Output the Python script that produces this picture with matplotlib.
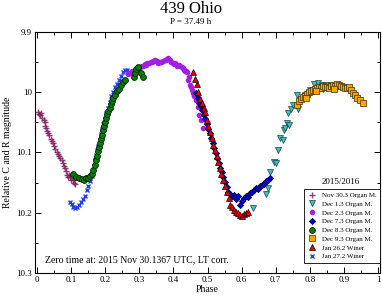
import matplotlib
matplotlib.use("Agg")
import matplotlib.pyplot as plt
from matplotlib.ticker import MultipleLocator

plt.rcParams['font.family'] = ['Liberation Serif', 'DejaVu Serif']

# Nov 30.3 Organ M.
nov30_phase = [0.003, 0.006, 0.010, 0.012, 0.016, 0.019, 0.022, 0.024, 0.027, 0.030, 0.033, 0.036,
               0.040, 0.043, 0.047, 0.050, 0.054, 0.058, 0.062, 0.065, 0.068, 0.072, 0.075, 0.078,
               0.082, 0.086, 0.088, 0.091, 0.094, 0.097, 0.100, 0.103, 0.106, 0.109, 0.112]
nov30_mag = [10.033, 10.036, 10.038, 10.034, 10.042, 10.046, 10.050, 10.056, 10.060, 10.064, 10.067, 10.071,
             10.078, 10.081, 10.085, 10.090, 10.095, 10.099, 10.102, 10.106, 10.109, 10.113, 10.118, 10.122,
             10.126, 10.131, 10.138, 10.140, 10.137, 10.141, 10.145, 10.141, 10.146, 10.150, 10.152]

# Dec 1.3 Organ M.
dec1_phase = [0.633, 0.672, 0.677, 0.683, 0.695, 0.702, 0.707, 0.714, 0.720, 0.723, 0.727, 0.732,
              0.739, 0.737, 0.745, 0.751, 0.762, 0.765, 0.774, 0.786, 0.800, 0.812, 0.824, 0.836,
              0.848, 0.862, 0.839]
dec1_mag = [10.192, 10.169, 10.159, 10.132, 10.116, 10.117, 10.096, 10.076, 10.079, 10.063, 10.059, 10.051,
            10.054, 10.034, 10.028, 10.021, 10.005, 10.028, 10.013, 10.005, 9.996, 9.986, 9.985, 9.988,
            9.988, 9.988, 9.995]

# Dec 2.3 Organ M.
dec2_phase = [0.267, 0.272, 0.276, 0.280, 0.284, 0.289, 0.293, 0.298, 0.302, 0.307, 0.311, 0.316,
              0.320, 0.324, 0.328, 0.333, 0.337, 0.341, 0.346, 0.350, 0.352, 0.356, 0.361, 0.365,
              0.370, 0.374, 0.378, 0.381, 0.384, 0.389, 0.393, 0.398, 0.402, 0.406, 0.411, 0.415,
              0.419, 0.424, 0.428, 0.431, 0.434, 0.437, 0.440, 0.443, 0.446, 0.449, 0.452, 0.455,
              0.458, 0.460, 0.466, 0.472, 0.475, 0.481, 0.487]
dec2_mag = [9.970, 9.968, 9.966, 9.964, 9.965, 9.962, 9.961, 9.959, 9.958, 9.957, 9.956, 9.953,
            9.955, 9.952, 9.951, 9.949, 9.950, 9.948, 9.946, 9.948, 9.948, 9.951, 9.950, 9.949,
            9.948, 9.947, 9.946, 9.944, 9.943, 9.947, 9.950, 9.952, 9.953, 9.951, 9.956, 9.955,
            9.956, 9.958, 9.960, 9.963, 9.965, 9.964, 9.966, 9.980, 9.975, 9.988, 9.992, 9.996,
            10.001, 10.006, 10.013, 10.024, 10.038, 10.046, 10.059]

# Dec 7.3 Organ M.
dec7_phase = [0.466, 0.472, 0.475, 0.481, 0.484, 0.490, 0.493, 0.499, 0.501, 0.507, 0.510, 0.516,
              0.519, 0.525, 0.528, 0.534, 0.537, 0.543, 0.545, 0.551, 0.557, 0.560, 0.566, 0.572,
              0.578, 0.584, 0.589, 0.595, 0.601, 0.607, 0.613, 0.619, 0.625, 0.630, 0.636, 0.642,
              0.648, 0.654, 0.660, 0.666, 0.672, 0.677, 0.683]
dec7_mag = [10.001, 10.010, 10.018, 10.023, 10.029, 10.038, 10.044, 10.053, 10.061, 10.068, 10.076, 10.084,
            10.093, 10.101, 10.109, 10.117, 10.126, 10.132, 10.141, 10.149, 10.157, 10.166, 10.169, 10.172,
            10.171, 10.177, 10.173, 10.187, 10.180, 10.176, 10.172, 10.174, 10.167, 10.166, 10.162, 10.159,
            10.161, 10.156, 10.154, 10.152, 10.147, 10.146, 10.142]

# Dec 8.3 Organ M.
dec8_phase = [0.106, 0.114, 0.123, 0.132, 0.138, 0.144, 0.150, 0.155, 0.161, 0.164, 0.170, 0.173,
              0.176, 0.179, 0.182, 0.185, 0.188, 0.191, 0.194, 0.196, 0.199, 0.202, 0.205, 0.208,
              0.214, 0.217, 0.220, 0.223, 0.229, 0.235, 0.240, 0.246, 0.252, 0.258, 0.284, 0.287,
              0.290, 0.296, 0.305, 0.311]
dec8_mag = [10.136, 10.141, 10.142, 10.144, 10.146, 10.142, 10.142, 10.139, 10.136, 10.129, 10.121, 10.112,
            10.106, 10.098, 10.091, 10.084, 10.078, 10.071, 10.063, 10.056, 10.049, 10.043, 10.036, 10.031,
            10.026, 10.020, 10.015, 10.010, 10.005, 9.998, 9.995, 9.988, 9.983, 9.980, 9.975, 9.968,
            9.961, 9.958, 9.968, 9.975]

# Dec 9.3 Organ M.
dec9_phase = [0.762, 0.768, 0.774, 0.780, 0.786, 0.792, 0.798, 0.804, 0.809, 0.815, 0.821, 0.827,
              0.833, 0.839, 0.845, 0.850, 0.856, 0.862, 0.868, 0.874, 0.880, 0.886, 0.891, 0.897,
              0.903, 0.909, 0.915, 0.921, 0.927, 0.933, 0.938, 0.947, 0.956, 0.790, 0.818, 0.870]
dec9_mag = [10.021, 10.015, 10.011, 10.008, 10.006, 10.003, 10.000, 9.998, 9.996, 9.995, 9.993, 9.991,
            9.993, 9.990, 9.991, 9.991, 9.993, 9.990, 9.988, 9.990, 9.986, 9.988, 9.990, 9.991,
            9.993, 9.993, 9.991, 9.996, 10.001, 10.005, 10.010, 10.013, 10.018, 10.010, 9.998, 9.994]

# Jan 26.2 Winer
jan26_phase = [0.457, 0.463, 0.469, 0.472, 0.478, 0.484, 0.490, 0.493, 0.499, 0.501, 0.507, 0.513,
               0.516, 0.522, 0.528, 0.531, 0.537, 0.540, 0.545, 0.551, 0.557, 0.563, 0.566, 0.572,
               0.578, 0.584, 0.589, 0.595, 0.601, 0.607, 0.613, 0.619]
jan26_mag = [9.966, 9.978, 9.986, 10.000, 10.011, 10.018, 10.026, 10.033, 10.046, 10.056, 10.066, 10.076,
             10.088, 10.096, 10.106, 10.116, 10.126, 10.136, 10.146, 10.156, 10.166, 10.176, 10.187, 10.190,
             10.195, 10.199, 10.200, 10.204, 10.205, 10.202, 10.200, 10.199]

# Jan 27.2 Winer
jan27_phase = [0.097, 0.103, 0.106, 0.111, 0.117, 0.123, 0.129, 0.135, 0.141, 0.147, 0.150, 0.155,
               0.161, 0.164, 0.167, 0.170, 0.173, 0.176, 0.179, 0.185, 0.188, 0.191, 0.194, 0.199,
               0.202, 0.208, 0.214, 0.217, 0.223, 0.229, 0.235, 0.240, 0.246, 0.252, 0.258, 0.264]
jan27_mag = [10.182, 10.185, 10.190, 10.192, 10.190, 10.187, 10.182, 10.177, 10.172, 10.162, 10.156, 10.147,
             10.139, 10.129, 10.122, 10.112, 10.104, 10.096, 10.089, 10.079, 10.069, 10.061, 10.053, 10.044,
             10.034, 10.026, 10.016, 10.006, 9.999, 9.991, 9.986, 9.980, 9.973, 9.966, 9.963, 9.963]

fig = plt.figure(figsize=(3.82, 2.96), dpi=100)
ax = fig.add_axes([0.0916, 0.0777, 0.9032, 0.8142])

ax.plot(nov30_phase, nov30_mag, linestyle='none', marker='+', color='#7f1f5f', ms=4.5, mew=1.0,
        alpha=0.85, label='Nov 30.3 Organ M.', zorder=3)
ax.plot(dec1_phase, dec1_mag, linestyle='none', marker='v', mfc='#3fbfbf', mec='#204040', ms=4, mew=0.5,
        label='Dec 1.3 Organ M.', zorder=3)
ax.plot(dec2_phase, dec2_mag, linestyle='none', marker='o', mfc='#a020e0', mec='#a020e0', ms=4, mew=0,
        label='Dec 2.3 Organ M.', zorder=3)
ax.plot(dec7_phase, dec7_mag, linestyle='none', marker='D', mfc='#0000d0', mec='#000030', ms=3.2, mew=0.5,
        label='Dec 7.3 Organ M.', zorder=3)
ax.plot(dec8_phase, dec8_mag, linestyle='none', marker='o', mfc='#008000', mec='#002000', ms=4.2, mew=0.6,
        label='Dec 8.3 Organ M.', zorder=3)
ax.plot(dec9_phase, dec9_mag, linestyle='none', marker='s', mfc='#ffa500', mec='#403000', ms=3.8, mew=0.5,
        label='Dec 9.3 Organ M.', zorder=3)
ax.plot(jan26_phase, jan26_mag, linestyle='none', marker='^', mfc='#e00000', mec='#200000', ms=4, mew=0.5,
        label='Jan 26.2 Winer', zorder=4)
ax.plot(jan27_phase, jan27_mag, linestyle='none', marker='x', color='#2040ff', ms=3.5, mew=1.0,
        label='Jan 27.2 Winer', zorder=2)

ax.set_xlim(-0.006, 1.006)
ax.set_ylim(10.3, 9.9)
ax.xaxis.set_minor_locator(MultipleLocator(0.05))
ax.yaxis.set_minor_locator(MultipleLocator(0.05))
ax.set_xticks([0, 0.1, 0.2, 0.3, 0.4, 0.5, 0.6, 0.7, 0.8, 0.9, 1.0])
ax.set_xticklabels(['0', '0.1', '0.2', '0.3', '0.4', '0.5', '0.6', '0.7', '0.8', '0.9', '1'])
ax.set_yticks([9.9, 10.0, 10.1, 10.2, 10.3])
ax.set_yticklabels(['9.9', '10', '10.1', '10.2', '10.3'])
ax.tick_params(which='both', direction='in', top=True, right=True, labelsize=6.5, width=0.7, pad=2)
ax.tick_params(which='major', length=4)
ax.tick_params(which='minor', length=2.5)
for s in ax.spines.values():
    s.set_linewidth(0.8)

ax.set_xlabel('Phase', fontsize=7, labelpad=1)
ax.set_ylabel('Relative C and R magnitude', fontsize=7, labelpad=3)

fig.text(0.5, 0.998, '439 Ohio', ha='center', va='top', fontsize=12)
fig.text(0.5, 0.925, 'P = 37.49 h', ha='center', va='center', fontsize=6.5)

ax.text(0.03, 0.035, 'Zero time at: 2015 Nov 30.1367 UTC, LT corr.', transform=ax.transAxes,
        fontsize=7, ha='left', va='bottom')

leg = ax.legend(loc='lower right', bbox_to_anchor=(1.0, 0.042), borderaxespad=0, fontsize=5.0,
                frameon=True, fancybox=False, edgecolor='black', framealpha=1, handlelength=1.3,
                handletextpad=0.7, labelspacing=0.42, borderpad=0.5, borderaxespad_=None) if False else \
      ax.legend(loc='lower right', bbox_to_anchor=(1.0, 0.042), borderaxespad=0, fontsize=5.0,
                frameon=True, fancybox=False, edgecolor='black', framealpha=1, handlelength=1.3,
                handletextpad=0.7, labelspacing=0.42, borderpad=0.5, numpoints=1)
leg.get_frame().set_linewidth(0.6)
ax.text(0.887, 0.378, '2015/2016', transform=ax.transAxes, fontsize=6.5, ha='center', va='center')

fig.savefig('out.png', dpi=100)
